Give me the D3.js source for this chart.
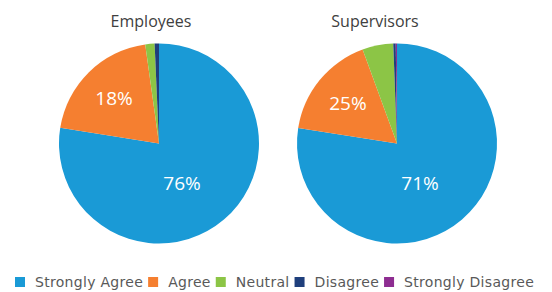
<!DOCTYPE html>
<html>
<head>
<meta charset="utf-8">
<script src="https://cdn.jsdelivr.net/npm/d3@7"></script>
<style>
  body { margin: 0; background: #fff; }
  svg { display: block; font-family: "Open Sans", "DejaVu Sans", sans-serif; }
</style>
</head>
<body>
<div id="chart"></div>
<script>
const svgWidth = 552;
const svgHeight = 292;
const radius = 100;

// Response categories, in clockwise order from 12 o'clock
const categories = ['Strongly Agree', 'Agree', 'Neutral', 'Disagree', 'Strongly Disagree'];
const colors = ['#1a9ad6', '#f57f30', '#8cc546', '#1f3f7c', '#8e2d91'];

// Slice shares as drawn in the picture
const employeesValues = [77.5, 20.3, 1.5, 0.7, 0];
const supervisorsValues = [77.7, 17, 5, 0.4, 0.2];

// Printed labels (empty where no label is shown)
const employeesLabels = ['76%', '18%', '', '', ''];
const supervisorsLabels = ['71%', '25%', '', '', ''];

const pies = [
    {title: 'Employees', values: employeesValues, labels: employeesLabels, cx: 159, titleX: 151},
    {title: 'Supervisors', values: supervisorsValues, labels: supervisorsLabels, cx: 397, titleX: 375}
];
const centerY = 143.5;

// Label nudges (px) per category, to mimic the "best fit" placement
const labelNudge = [[-14, -3], [-5, -4], [0, 0], [0, 0], [0, 0]];

const svg = d3.select('#chart').append('svg')
    .attr('width', svgWidth)
    .attr('height', svgHeight);

const pie = d3.pie().sort(null).value(d => d);
const arc = d3.arc().innerRadius(0).outerRadius(radius);
const labelArc = d3.arc().innerRadius(radius * 0.57).outerRadius(radius * 0.57);

// Draw one pie with its title and labels
const drawPie = p => {
    svg.append('text')
        .attr('x', p.titleX)
        .attr('y', 27)
        .attr('text-anchor', 'middle')
        .style('font-size', '16px')
        .style('fill', '#404040')
        .text(p.title);

    const g = svg.append('g')
        .attr('transform', 'translate(' + p.cx + ',' + centerY + ')');

    const arcs = pie(p.values);

    g.selectAll('path')
        .data(arcs)
        .enter()
        .append('path')
            .attr('d', arc)
            .attr('fill', (d, i) => colors[i]);

    g.selectAll('text')
        .data(arcs)
        .enter()
        .append('text')
            .attr('transform', (d, i) => {
                const c = labelArc.centroid(d);
                return 'translate(' + (c[0] + labelNudge[i][0]) + ',' + (c[1] + labelNudge[i][1]) + ')';
            })
            .attr('text-anchor', 'middle')
            .attr('dy', '0.35em')
            .style('font-size', '19px')
            .style('fill', '#fff')
            .text((d, i) => p.labels[i]);
};

pies.forEach(drawPie);

// Legend along the bottom
const legend = svg.append('g').attr('transform', 'translate(15,282)');
let x = 0;
categories.forEach((c, i) => {
    const item = legend.append('g').attr('transform', 'translate(' + x + ',0)');
    item.append('rect')
        .attr('x', 0)
        .attr('y', -5)
        .attr('width', 10)
        .attr('height', 10)
        .attr('fill', colors[i]);
    const t = item.append('text')
        .attr('x', 20)
        .attr('dy', '0.35em')
        .style('font-family', '"DejaVu Sans", sans-serif')
        .style('font-size', '14px')
        .style('letter-spacing', '0.3px')
        .style('fill', '#595959')
        .text(c);
    x += 20 + t.node().getComputedTextLength() + 5;
});
</script>
</body>
</html>
